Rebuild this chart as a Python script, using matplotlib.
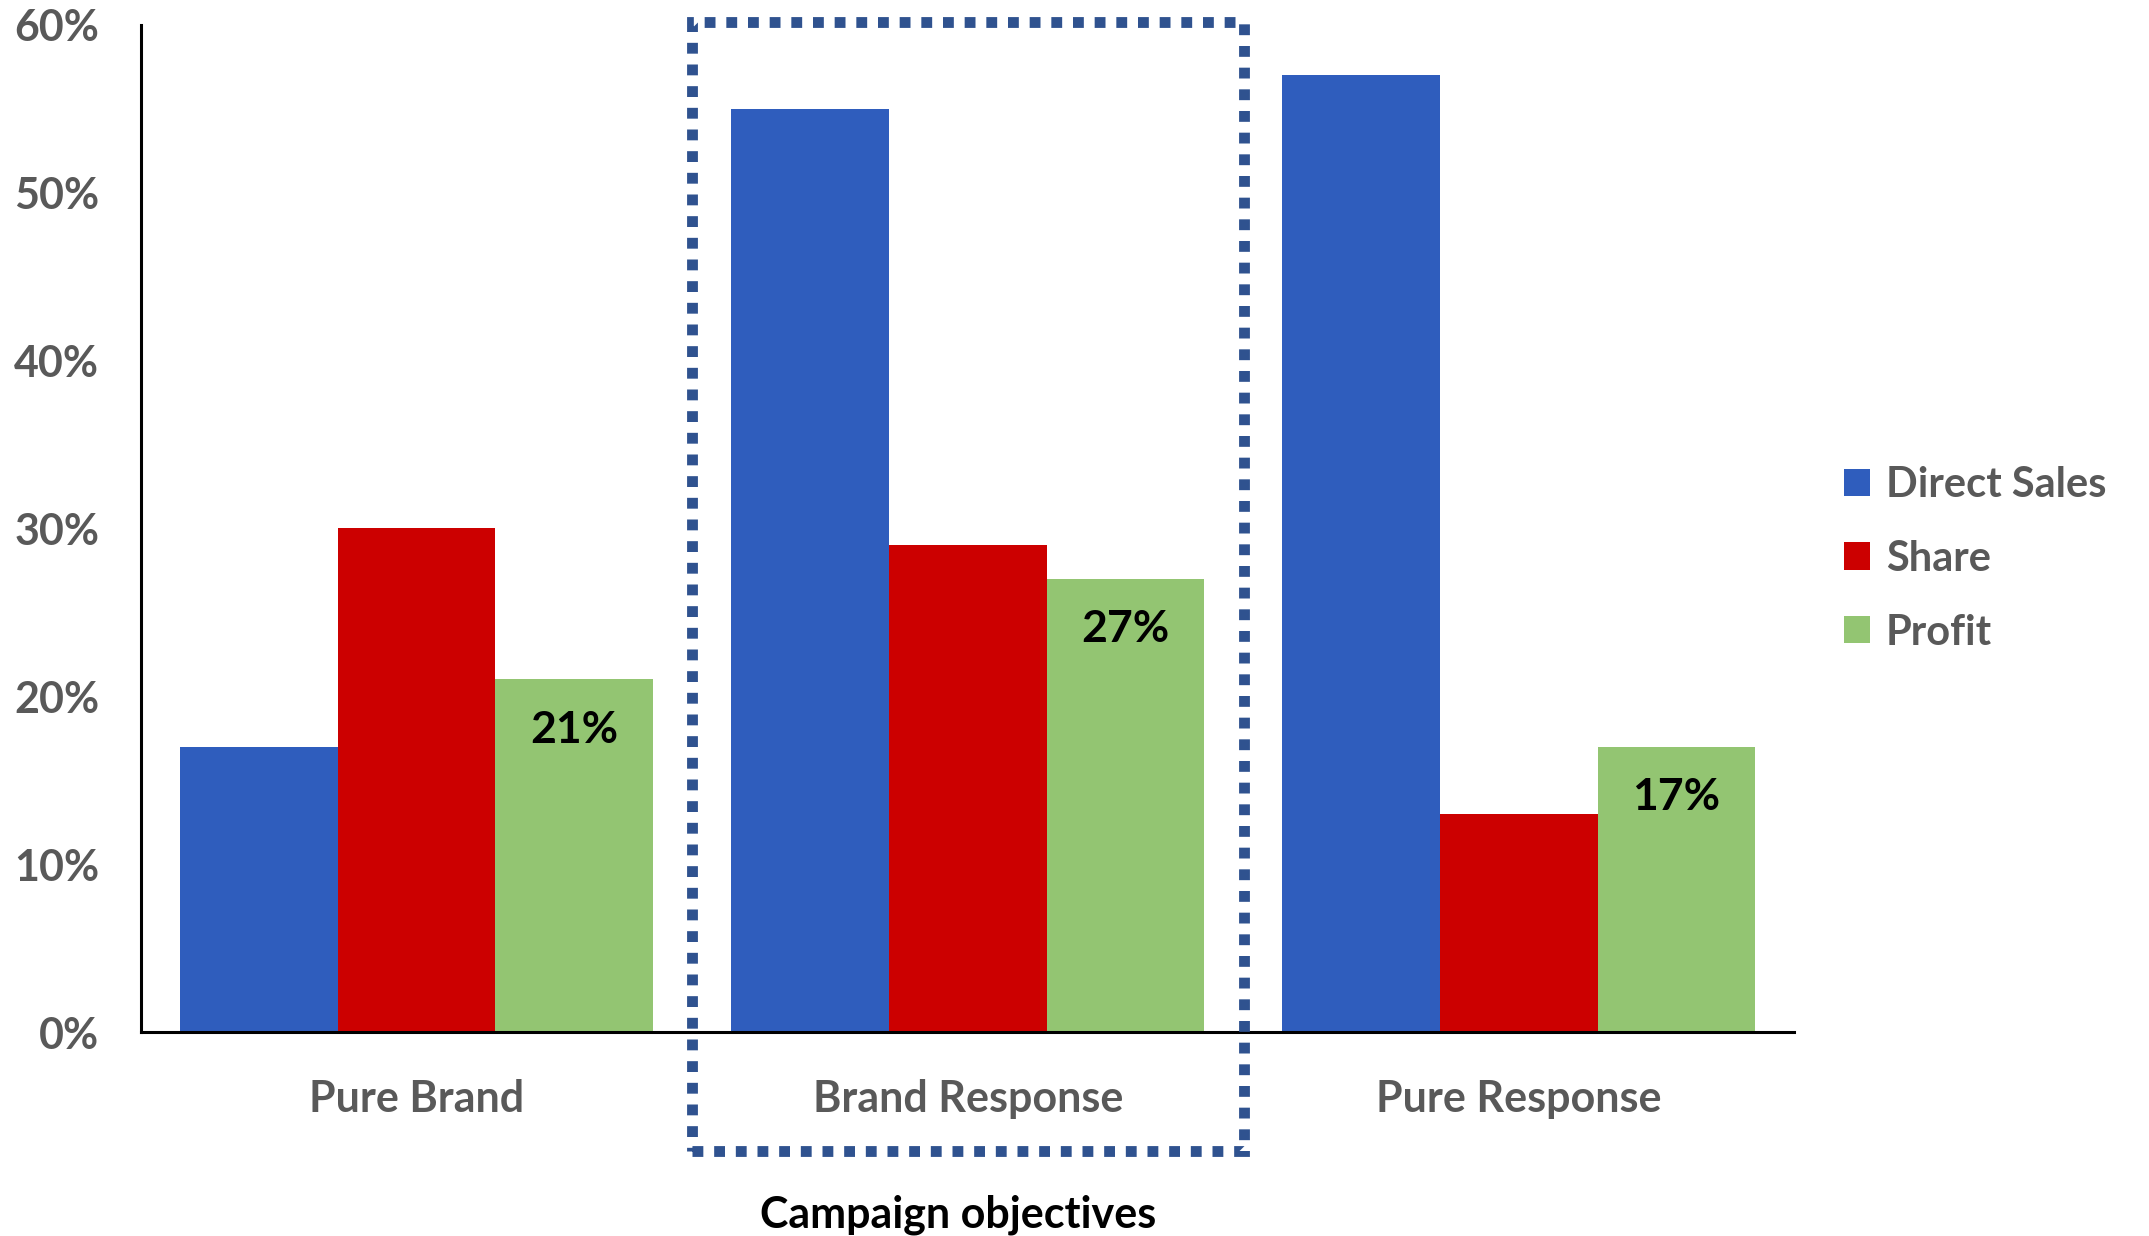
import matplotlib
matplotlib.use("Agg")
import matplotlib.pyplot as plt
import numpy as np
from matplotlib.patches import Rectangle, Patch
from matplotlib.ticker import FuncFormatter

plt.rcParams['font.family'] = ['Lato', 'DejaVu Sans']
plt.rcParams['font.weight'] = 'bold'

categories = ["Pure Brand", "Brand Response", "Pure Response"]
series_names = ["Direct Sales", "Share", "Profit"]
direct_sales = [17, 55, 57]
share = [30, 29, 13]
profit = [21, 27, 17]
profit_labels = ["21%", "27%", "17%"]
yticks = [0, 10, 20, 30, 40, 50, 60]

colors = ["#2F5DBD", "#CC0000", "#93C572"]
gray = "#595959"

fig = plt.figure(figsize=(21.49, 12.36), dpi=100)
ax = fig.add_axes([0.0656, 0.165, 0.835 - 0.0656, 0.98 - 0.165])

x = np.arange(len(categories))
w = 0.286
all_series = [direct_sales, share, profit]
for i, (vals, c) in enumerate(zip(all_series, colors)):
    ax.bar(x + (i - 1) * w, vals, width=w, color=c, zorder=2)

for xi, v, lab in zip(x, profit, profit_labels):
    ax.text(xi + w, v - 3.0, lab, ha='center', va='center', fontsize=32,
            fontweight='bold', color='black', zorder=3)

ax.set_xlim(-0.5, 2.5)
ax.set_ylim(0, 60)
ax.set_yticks(yticks)
ax.yaxis.set_major_formatter(FuncFormatter(lambda v, p: f"{int(v)}%"))
ax.set_xticks(x)
ax.set_xticklabels(categories)
ax.tick_params(axis='both', length=0, labelsize=31, labelcolor=gray)
ax.tick_params(axis='x', pad=34)
ax.tick_params(axis='y', pad=30)
for lab in ax.get_xticklabels() + ax.get_yticklabels():
    lab.set_fontweight('bold')

for s in ['top', 'right']:
    ax.spines[s].set_visible(False)
for s in ['left', 'bottom']:
    ax.spines[s].set_linewidth(2.2)
    ax.spines[s].set_color('black')

ax.set_xlabel("Campaign objectives", fontsize=31, fontweight='bold', color='black',
              labelpad=54, x=0.494)

# dotted highlight rectangle around middle group
x0, x1, y0, y1 = 0.333, 0.667, -0.118, 1.003
rect = Rectangle((x0, y0), x1 - x0, y1 - y0,
                 transform=ax.transAxes, fill=False, edgecolor="#2F528F",
                 linewidth=7.8, linestyle=(0, (1, 1)), clip_on=False, zorder=4)
rect.set_capstyle('butt')
ax.add_patch(rect)

handles = [Patch(facecolor=c, edgecolor='none') for c in colors]
leg = fig.legend(handles, series_names, loc='center left', bbox_to_anchor=(0.858, 0.548),
                 frameon=False, fontsize=30, handlelength=0.63, handleheight=0.63,
                 handletextpad=0.38, labelspacing=0.86, labelcolor=gray, borderpad=0,
                 borderaxespad=0)
for t in leg.get_texts():
    t.set_fontweight('bold')

fig.savefig("out.png", dpi=100)
